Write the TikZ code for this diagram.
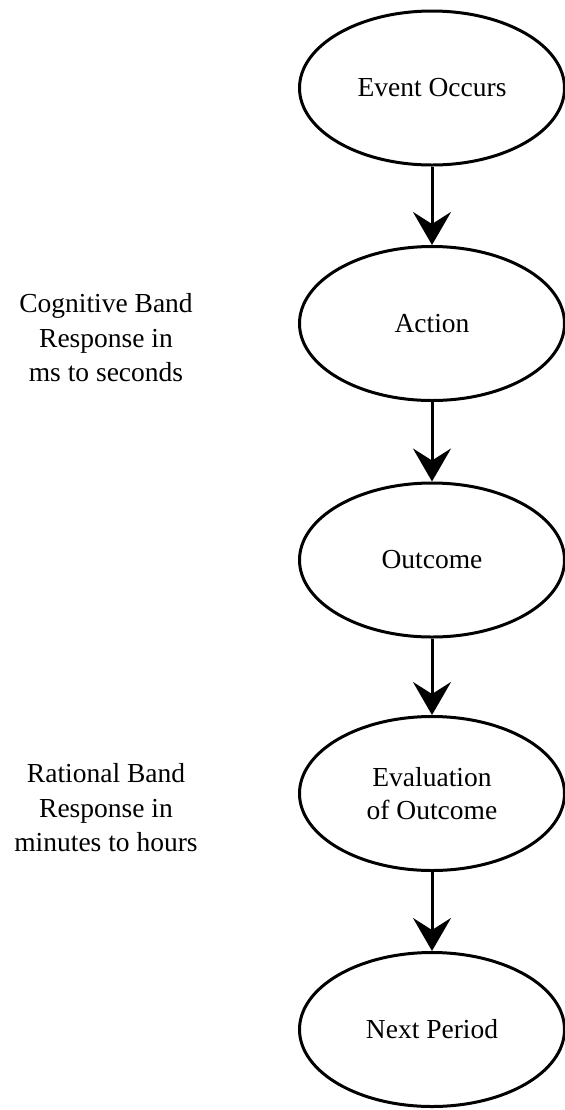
\documentclass[tikz,border=0pt]{standalone}
\usepackage{fontspec}
\setmainfont{Liberation Serif}
\usetikzlibrary{shapes.geometric,arrows.meta}
\begin{document}
\begin{tikzpicture}[x=0.5pt,y=-0.5pt,
  oval/.style={ellipse,draw,line width=1.5pt,minimum width=132.5pt,minimum height=77pt,inner sep=0pt,align=center,
    font=\fontsize{13.75pt}{16.5pt}\selectfont},
  band/.style={align=center,font=\fontsize{13.75pt}{17.25pt}\selectfont,inner sep=0pt},
  flow/.style={line width=1.5pt,-{Stealth[length=16.5pt,width=19pt,inset=6pt]}}]
\useasboundingbox (0,0) rectangle (565,1110);
\node[oval] (e1) at (432,88) {Event Occurs};
\node[oval] (e2) at (432,323.5) {Action};
\node[oval] (e3) at (432,560) {Outcome};
\node[oval] (e4) at (432,793.5) {Evaluation\\of Outcome};
\node[oval] (e5) at (432,1029.5) {Next Period};
\draw[flow] (e1) -- (e2);
\draw[flow] (e2) -- (e3);
\draw[flow] (e3) -- (e4);
\draw[flow] (e4) -- (e5);
\node[band] (cb) at (106,338) {Cognitive Band\\Response in\\ms to seconds};
\node[band] (rb) at (106,808) {Rational Band\\Response in\\minutes to hours};
\end{tikzpicture}
\end{document}
